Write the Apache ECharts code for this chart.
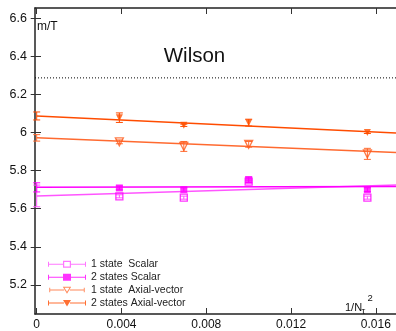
<!DOCTYPE html>
<html>
<head>
<meta charset="utf-8">
<script src="https://cdn.jsdelivr.net/npm/echarts@6/dist/echarts.min.js"></script>
<style>html,body{margin:0;padding:0;background:#fff}#c{width:396px;height:331px}</style>
</head>
<body>
<div id="c"></div>
<script>
// ---- data ----
const xPoints = [0.0039, 0.00694, 0.01, 0.0156];
const scalar1 = [5.665, 5.658, 5.742, 5.658];
const scalar1Err = [0.008, 0.008, 0.008, 0.008];
const scalar2 = [5.709, 5.700, 5.752, 5.700];
const scalar2Err = [0.010, 0.010, 0.015, 0.010];
const av1 = [5.951, 5.927, 5.938, 5.888];
const av1Err = [0.010, 0.026, 0.015, 0.029];
const av2 = [6.078, 6.038, 6.052, 6.000];
const av2Err = [0.025, 0.006, 0.018, 0.005];
// extrapolated (x = 0) values and errors: scalar1, scalar2, av1, av2
const extrapValues = [5.667, 5.712, 5.972, 6.087];
const extrapErrors = [0.057, 0.024, 0.017, 0.021];
// fit line end values at the right edge
const fitEndX = 0.01695;
const fitEndValues = [5.724, 5.716, 5.895, 5.998];
const wilsonLevel = 6.287;
const xTicks = [0, 0.004, 0.008, 0.012, 0.016];
const yTicks = [5.2, 5.4, 5.6, 5.8, 6.0, 6.2, 6.4, 6.6];
const seriesNames = ['1 state  Scalar', '2 states Scalar', '1 state  Axial-vector', '2 states Axial-vector'];

const X_MIN = -0.00008, X_MAX = 0.01695, Y_MIN = 5.047, Y_MAX = 6.654;
const colorsMarker = ['#ff00ff', '#ff00ff', '#ff5a1a', '#ff5000'];
const colorsLine = ['#ff55ff', '#ff00ff', '#ff6a30', '#ff4c00'];
const sets = [
  {v: scalar1, e: scalar1Err, sym: 'rect', rot: 0, open: true, size: 7},
  {v: scalar2, e: scalar2Err, sym: 'rect', rot: 0, open: false, size: 7},
  {v: av1, e: av1Err, sym: 'triangle', rot: 180, open: true, size: 8},
  {v: av2, e: av2Err, sym: 'triangle', rot: 180, open: false, size: 7}
];

const legendIcons = [
  'path://M0,3H15V4H0Z M23,3H38V4H23Z M0,1H1V6H0Z M37,1H38V6H37Z M15,0H23V7H15Z M16.2,1.2V5.8H21.8V1.2Z',
  'path://M0,3H15V4H0Z M23,3H38V4H23Z M0,1H1V6H0Z M37,1H38V6H37Z M15,0H23V7H15Z',
  'path://M0,3H16V4H0Z M22,3H38V4H22Z M0,1H1V6H0Z M37,1H38V6H37Z M14.5,0H23.5L19,7.5Z M16.3,1V1L19,5.4L21.7,1Z',
  'path://M0,3H16V4H0Z M22,3H38V4H22Z M0,1H1V6H0Z M37,1H38V6H37Z M15,0.5H23L19,7.2Z'
];

function errRender(params, api) {
  const x = api.value(0), y = api.value(1), e = api.value(2);
  const lo = api.coord([x, y - e]), hi = api.coord([x, y + e]);
  const w = 3.5;
  const st = api.style({stroke: api.visual('color'), lineWidth: 1, fill: null});
  return {type: 'group', children: [
    {type: 'line', shape: {x1: lo[0], y1: lo[1], x2: hi[0], y2: hi[1]}, style: st},
    {type: 'line', shape: {x1: lo[0] - w, y1: lo[1], x2: lo[0] + w, y2: lo[1]}, style: st},
    {type: 'line', shape: {x1: hi[0] - w, y1: hi[1], x2: hi[0] + w, y2: hi[1]}, style: st}
  ]};
}

const series = [];
sets.forEach((s, i) => {
  const errData = [[0, extrapValues[i], extrapErrors[i]]].concat(
    xPoints.map((x, k) => [x, s.v[k], s.e[k]]));
  series.push({
    type: 'custom', renderItem: errRender, data: errData,
    encode: {x: 0, y: 1}, itemStyle: {color: colorsLine[i]}, z: 2, silent: true
  });
  series.push({
    type: 'line', data: [[0, extrapValues[i]], [fitEndX, fitEndValues[i]]],
    symbol: 'none', lineStyle: {color: colorsLine[i], width: 1.5}, z: 3, silent: true
  });
});
sets.forEach((s, i) => {
  series.push({
    name: seriesNames[i], type: 'scatter',
    data: xPoints.map((x, k) => [x, s.v[k]]),
    symbol: s.sym, symbolRotate: s.rot, symbolSize: s.size,
    itemStyle: s.open ? {color: 'rgba(0,0,0,0)', borderColor: colorsMarker[i], borderWidth: 1.3}
                      : {color: colorsMarker[i]},
    z: 4 + i
  });
});
series.push({
  type: 'line', data: [[X_MIN, wilsonLevel], [X_MAX, wilsonLevel]], symbol: 'none',
  lineStyle: {color: '#000', width: 1, type: [1, 2]}, z: 1, silent: true
});

const axisLineStyle = {color: '#222', width: 1.5};
const font = 'Liberation Sans';
const option = {
  animation: false,
  backgroundColor: '#fff',
  grid: {left: 35, right: -1, top: 8, bottom: 16},
  xAxis: [{
    type: 'value', min: X_MIN, max: X_MAX, position: 'bottom',
    axisLine: {show: true, onZero: false, lineStyle: axisLineStyle},
    axisTick: {show: true, inside: true, length: 6, customValues: xTicks, lineStyle: {color: '#333', width: 1}},
    axisLabel: {customValues: xTicks, margin: 5, fontSize: 12, color: '#111', fontFamily: font},
    splitLine: {show: false}
  }, {
    type: 'value', min: X_MIN, max: X_MAX, position: 'top',
    axisLine: {show: true, onZero: false, lineStyle: axisLineStyle},
    axisTick: {show: true, inside: true, length: 6, customValues: xTicks, lineStyle: {color: '#333', width: 1}},
    axisLabel: {show: false}, splitLine: {show: false}
  }],
  yAxis: [{
    type: 'value', min: Y_MIN, max: Y_MAX, position: 'left',
    axisLine: {show: true, onZero: false, lineStyle: axisLineStyle},
    axisTick: {show: true, inside: true, length: 6, customValues: yTicks, lineStyle: {color: '#333', width: 1}},
    axisLabel: {customValues: yTicks, margin: 8, fontSize: 12.5, color: '#111', fontFamily: font},
    splitLine: {show: false}
  }, {
    type: 'value', min: Y_MIN, max: Y_MAX, position: 'right',
    axisLine: {show: false},
    axisTick: {show: true, inside: true, length: 6, customValues: yTicks, lineStyle: {color: '#333', width: 1}},
    axisLabel: {show: false}, splitLine: {show: false}
  }],
  legend: {
    orient: 'vertical', left: 48, top: 258, padding: 0, itemWidth: 38, itemHeight: 7, itemGap: 0.5,
    symbolKeepAspect: true, selectedMode: false,
    textStyle: {fontSize: 10.5, color: '#222', fontFamily: font, lineHeight: 12.5},
    data: seriesNames.map((n, i) => ({name: n, icon: legendIcons[i],
      itemStyle: {color: colorsLine[i], borderWidth: 0}}))
  },
  graphic: [
    {type: 'text', x: 37, y: 27, style: {text: 'm/T', fontSize: 12, fontFamily: font, fill: '#111', align: 'left', verticalAlign: 'middle'}},
    {type: 'text', x: 194.5, y: 56, style: {text: 'Wilson', fontSize: 20.5, fontFamily: font, fill: '#111', align: 'center', verticalAlign: 'middle'}},
    {type: 'text', x: 345, y: 307.5, style: {text: '1/N', fontSize: 11, fontFamily: font, fill: '#111', align: 'left', verticalAlign: 'middle'}},
    {type: 'text', x: 361.5, y: 311.5, style: {text: 'τ', fontSize: 9.5, fontFamily: font, fill: '#111', align: 'left', verticalAlign: 'middle'}},
    {type: 'text', x: 367.5, y: 298.5, style: {text: '2', fontSize: 9.5, fontFamily: font, fill: '#111', align: 'left', verticalAlign: 'middle'}}
  ],
  series: series
};
const chart = echarts.init(document.getElementById('c'), null, {renderer: 'canvas'});
chart.setOption(option);
</script>
</body>
</html>
